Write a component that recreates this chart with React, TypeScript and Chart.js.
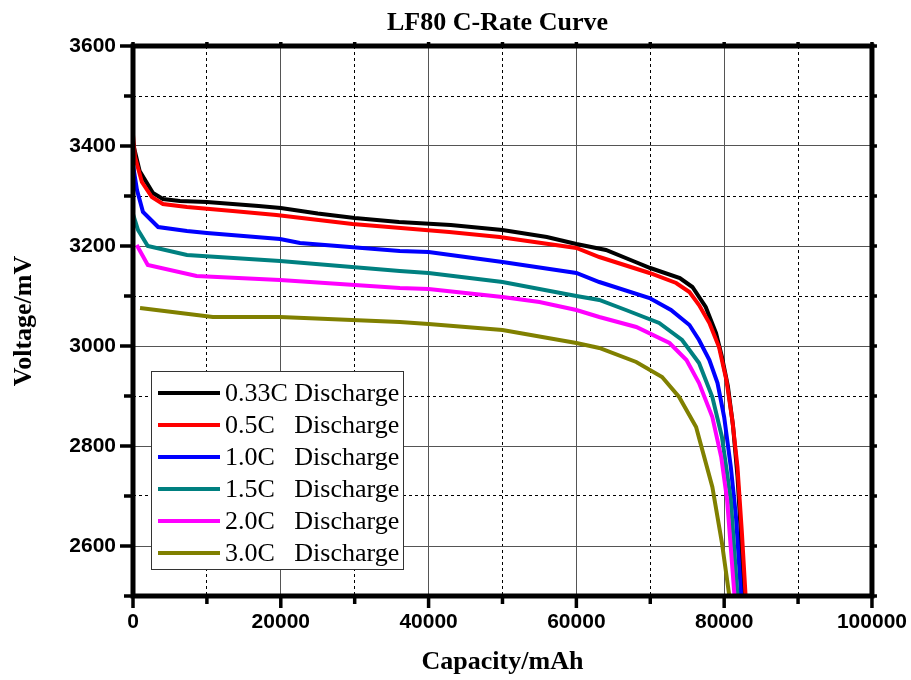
import React, { useEffect, useRef } from 'react';
import { Chart, registerables } from 'chart.js';

Chart.register(...registerables);

const chartTitle = 'LF80 C-Rate Curve';
const xTitle = 'Capacity/mAh';
const yTitle = 'Voltage/mV';

const seriesLabels = [
  '0.33C Discharge',
  '0.5C   Discharge',
  '1.0C   Discharge',
  '1.5C   Discharge',
  '2.0C   Discharge',
  '3.0C   Discharge',
];
const seriesColors = ['#000000', '#ff0000', '#0000ff', '#008080', '#ff00ff', '#808000'];

const xTickLabels = [0, 20000, 40000, 60000, 80000, 100000];
const yTickLabels = [2600, 2800, 3000, 3200, 3400, 3600];

const cap033 = [0, 900, 2700, 4050, 6350, 10000, 17000, 20000, 25000, 30000, 36000, 43000, 50000, 56000, 60000, 64000, 68000, 70000, 74000, 75700, 77500, 78900, 79700, 80500, 81200, 81800, 82200, 82500];
const volt033 = [3405, 3350, 3306, 3294, 3290, 3288, 3280, 3276, 3265, 3256, 3248, 3242, 3232, 3218, 3204, 3192, 3168, 3156, 3136, 3118, 3078, 3026, 2978, 2920, 2840, 2740, 2640, 2500];

const cap05 = [0, 270, 1200, 2550, 4050, 7300, 13500, 19400, 29700, 42800, 49600, 60000, 63100, 69900, 73500, 75300, 76600, 78000, 79300, 80300, 81100, 81800, 82400, 82900];
const volt05 = [3422, 3378, 3328, 3298, 3284, 3278, 3270, 3262, 3244, 3228, 3218, 3196, 3178, 3146, 3126, 3108, 3082, 3046, 2998, 2932, 2852, 2758, 2626, 2500];

const cap10 = [0, 540, 1350, 3400, 7300, 10000, 19900, 22600, 36100, 40000, 50000, 60000, 63100, 69900, 72800, 75300, 76600, 78000, 79100, 80000, 80900, 81600, 82300];
const volt10 = [3362, 3312, 3268, 3238, 3230, 3226, 3214, 3206, 3190, 3188, 3168, 3146, 3128, 3096, 3072, 3042, 3012, 2972, 2926, 2858, 2758, 2658, 2500];

const cap15 = [0, 680, 2000, 7300, 19900, 36100, 40000, 50000, 60000, 63100, 66700, 71200, 74300, 76600, 78400, 79700, 80900, 81800];
const volt15 = [3264, 3232, 3200, 3182, 3170, 3150, 3146, 3128, 3100, 3092, 3072, 3046, 3012, 2966, 2898, 2818, 2692, 2500];

const cap20 = [500, 2000, 8600, 19900, 36100, 40000, 50000, 55000, 60000, 63100, 68100, 72600, 74900, 76600, 78400, 79600, 80400, 81400];
const volt20 = [3202, 3162, 3140, 3132, 3116, 3114, 3098, 3088, 3072, 3058, 3038, 3006, 2972, 2926, 2858, 2778, 2692, 2500];

const cap30 = [950, 10800, 19900, 36100, 40000, 50000, 60000, 63100, 68100, 71600, 73900, 76200, 78400, 79700, 80700];
const volt30 = [3076, 3058, 3058, 3048, 3044, 3032, 3006, 2996, 2968, 2938, 2898, 2838, 2718, 2606, 2500];

const capacities = [cap033, cap05, cap10, cap15, cap20, cap30];
const voltages = [volt033, volt05, volt10, volt15, volt20, volt30];

const isMajorX = (v: number) => xTickLabels.includes(v);
const isMajorY = (v: number) => yTickLabels.includes(v);

const decorPlugin = {
  id: 'decor',
  afterDatasetsDraw(chart: any) {
    const { ctx, chartArea: a, scales } = chart;
    const xs = scales.x;
    const ys = scales.y;
    ctx.save();
    ctx.strokeStyle = '#000';
    ctx.lineCap = 'butt';
    // tick marks
    ctx.lineWidth = 3.5;
    ys.ticks.forEach((t: any) => {
      const y = ys.getPixelForValue(t.value);
      const len = isMajorY(t.value) ? 13 : 9;
      ctx.beginPath();
      ctx.moveTo(a.left, y);
      ctx.lineTo(a.left - len, y);
      ctx.stroke();
      ctx.beginPath();
      ctx.moveTo(a.right, y);
      ctx.lineTo(a.right + 5, y);
      ctx.stroke();
    });
    xs.ticks.forEach((t: any) => {
      const x = xs.getPixelForValue(t.value);
      const len = isMajorX(t.value) ? 12 : 8;
      ctx.beginPath();
      ctx.moveTo(x, a.bottom);
      ctx.lineTo(x, a.bottom + len);
      ctx.stroke();
      ctx.beginPath();
      ctx.moveTo(x, a.top);
      ctx.lineTo(x, a.top - 4);
      ctx.stroke();
    });
    // frame
    ctx.lineWidth = 5;
    ctx.strokeRect(a.left, a.top, a.right - a.left, a.bottom - a.top);

    // title
    ctx.fillStyle = '#000';
    ctx.font = 'bold 26px "Liberation Serif", "Times New Roman", serif';
    ctx.textAlign = 'center';
    ctx.textBaseline = 'middle';
    ctx.fillText(chartTitle, (a.left + a.right) / 2 - 5, 23);

    // legend
    const lx = a.left + 18;
    const ly = a.top + 325;
    const lw = 252;
    const lh = 198;
    ctx.fillStyle = '#fff';
    ctx.fillRect(lx, ly, lw, lh);
    ctx.lineWidth = 1;
    ctx.strokeStyle = '#333';
    ctx.strokeRect(lx + 0.5, ly + 0.5, lw, lh);
    ctx.font = '26px "Liberation Serif", "Times New Roman", serif';
    ctx.textAlign = 'left';
    ctx.textBaseline = 'middle';
    seriesLabels.forEach((lab, i) => {
      const cy = ly + 22 + i * 32;
      ctx.strokeStyle = seriesColors[i];
      ctx.lineWidth = 4;
      ctx.beginPath();
      ctx.moveTo(lx + 7, cy);
      ctx.lineTo(lx + 69, cy);
      ctx.stroke();
      ctx.fillStyle = '#000';
      ctx.fillText(lab, lx + 74, cy + 1);
    });
    ctx.restore();
  },
};

export default function App() {
  const ref = useRef<HTMLCanvasElement | null>(null);

  useEffect(() => {
    document.body.style.margin = '0';
    const canvas = ref.current;
    if (!canvas) return;
    const datasets = capacities.map((caps, i) => ({
      label: seriesLabels[i],
      data: caps.map((c, j) => ({ x: c, y: voltages[i][j] })),
      borderColor: seriesColors[i],
      backgroundColor: seriesColors[i],
      borderWidth: 4,
      pointRadius: 0,
      tension: 0,
      fill: false,
      order: 6 - i,
    }));
    const tickFont = { family: '"Liberation Sans", Arial, sans-serif', size: 21, weight: 'bold' as const };
    const chart = new Chart(canvas, {
      type: 'line',
      data: { datasets },
      plugins: [decorPlugin],
      options: {
        animation: false,
        responsive: true,
        maintainAspectRatio: false,
        layout: { padding: { top: 46, right: 38, bottom: 0, left: 0 } },
        plugins: {
          legend: { display: false },
          title: { display: false },
          tooltip: { enabled: false },
        },
        scales: {
          x: {
            type: 'linear',
            min: 0,
            max: 100000,
            afterFit: (s: any) => {
              s.height = 84;
            },
            ticks: {
              stepSize: 10000,
              autoSkip: false,
              maxRotation: 0,
              padding: 4,
              color: '#000',
              font: tickFont,
              callback: (v: any) => (isMajorX(Number(v)) ? String(v) : ''),
            },
            grid: {
              color: (c: any) => (c.tick && isMajorX(c.tick.value) ? '#555' : '#000'),
              lineWidth: 1,
              drawTicks: true,
              tickLength: 10,
              tickColor: 'rgba(0,0,0,0)',
            },
            border: {
              display: false,
              dash: (c: any) => (c.tick && isMajorX(c.tick.value) ? [] : [3, 3]),
            },
            title: {
              display: true,
              text: xTitle,
              color: '#000',
              font: { family: '"Liberation Serif", "Times New Roman", serif', size: 26, weight: 'bold' },
              padding: { top: 0, bottom: 2 },
            },
          },
          y: {
            type: 'linear',
            min: 2500,
            max: 3600,
            afterFit: (s: any) => {
              s.width = 133;
            },
            ticks: {
              stepSize: 100,
              autoSkip: false,
              padding: 7,
              color: '#000',
              font: tickFont,
              callback: (v: any) => (isMajorY(Number(v)) ? String(v) : ''),
            },
            grid: {
              color: (c: any) => (c.tick && isMajorY(c.tick.value) ? '#555' : '#000'),
              lineWidth: 1,
              drawTicks: true,
              tickLength: 10,
              tickColor: 'rgba(0,0,0,0)',
            },
            border: {
              display: false,
              dash: (c: any) => (c.tick && isMajorY(c.tick.value) ? [] : [3, 3]),
            },
            title: {
              display: true,
              text: yTitle,
              color: '#000',
              font: { family: '"Liberation Serif", "Times New Roman", serif', size: 26, weight: 'bold' },
              padding: { top: 9, bottom: 0 },
            },
          },
        },
      },
    });
    return () => chart.destroy();
  }, []);

  return (
    <div style={{ position: 'relative', width: 911, height: 680 }}>
      <canvas ref={ref} />
    </div>
  );
}
